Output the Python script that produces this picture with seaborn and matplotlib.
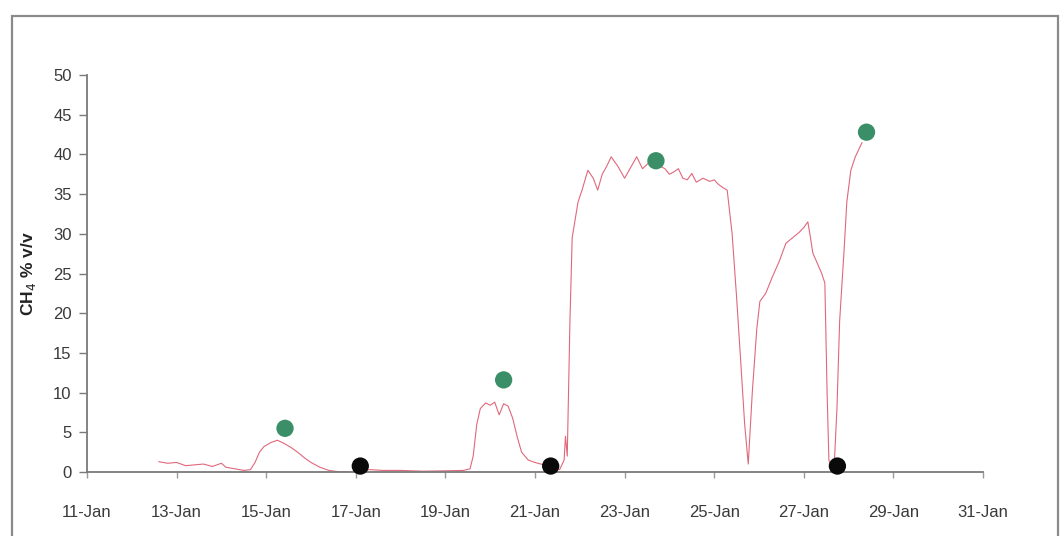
import pandas as pd
import numpy as np
import matplotlib
import matplotlib.pyplot as plt
import matplotlib.dates as mdates
from matplotlib.patches import Rectangle
import seaborn as sns

matplotlib.use('Agg')

# --- data (day of January, CH4 % v/v) ---
line_day = [12.6, 12.8, 13.0, 13.2, 13.4, 13.6, 13.8, 14.0, 14.1, 14.3, 14.5, 14.65,
            14.75, 14.85, 14.95, 15.1, 15.25, 15.4, 15.55, 15.7, 15.85, 16.0, 16.2,
            16.4, 16.6, 16.8, 17.0, 17.3, 17.6, 18.0, 18.5, 19.0, 19.4, 19.55, 19.62,
            19.7, 19.78, 19.9, 20.0, 20.1, 20.2, 20.3, 20.4, 20.5, 20.6, 20.7, 20.85,
            21.0, 21.2, 21.4, 21.55, 21.65, 21.68, 21.72, 21.78, 21.83, 21.96, 22.05,
            22.18, 22.3, 22.4, 22.5, 22.6, 22.7, 22.85, 23.0, 23.1, 23.27, 23.4, 23.55,
            23.7, 23.9, 24.0, 24.1, 24.2, 24.3, 24.4, 24.5, 24.6, 24.75, 24.9, 25.0,
            25.1, 25.2, 25.29, 25.4, 25.5, 25.58, 25.68, 25.76, 25.85, 25.95, 26.02,
            26.15, 26.3, 26.45, 26.6, 26.75, 26.9, 27.0, 27.09, 27.15, 27.2, 27.3,
            27.4, 27.47, 27.52, 27.56, 27.62, 27.68, 27.74, 27.8, 27.9, 27.96, 28.05,
            28.15, 28.3]
line_ch4 = [1.3, 1.1, 1.2, 0.8, 0.9, 1.0, 0.7, 1.1, 0.6, 0.4, 0.2, 0.3,
            1.2, 2.5, 3.2, 3.7, 4.0, 3.6, 3.1, 2.5, 1.8, 1.2, 0.6,
            0.2, 0.05, 0.0, 0.0, 0.3, 0.2, 0.2, 0.1, 0.15, 0.2, 0.4, 2.0,
            6.0, 8.0, 8.7, 8.4, 8.8, 7.2, 8.6, 8.3, 6.8, 4.5, 2.5, 1.5,
            1.2, 0.9, 0.5, 0.3, 1.5, 4.5, 2.0, 19.0, 29.5, 34.0, 35.5,
            38.0, 37.0, 35.5, 37.5, 38.5, 39.7, 38.5, 37.0, 38.0, 39.7, 38.2, 39.0,
            38.8, 38.2, 37.5, 37.8, 38.2, 37.0, 36.8, 37.6, 36.5, 37.0, 36.6, 36.8,
            36.2, 35.8, 35.5, 30.0, 22.0, 15.0, 6.0, 1.0, 10.0, 18.0, 21.5,
            22.5, 24.6, 26.5, 28.8, 29.5, 30.2, 30.8, 31.5, 29.5, 27.6, 26.3,
            25.0, 23.8, 10.0, 1.5, 0.5, 1.0, 8.0, 19.0, 28.0, 34.0, 38.0,
            39.7, 41.5]

sample_day = [15.42, 20.3, 23.7, 28.4]
sample_ch4 = [5.5, 11.6, 39.2, 42.8]

zero_day = [17.1, 21.35, 27.75]
zero_ch4 = [0.75, 0.75, 0.75]

start = pd.Timestamp('2009-01-01')


def to_dates(days):
    return start + pd.to_timedelta(np.array(days) - 1, unit='D')


sns.set_style('white')
plt.rcParams['font.family'] = ['Liberation Sans', 'DejaVu Sans']

fig = plt.figure(figsize=(10.62, 5.36), dpi=100)
ax = fig.add_axes([87 / 1062, 1 - 472 / 536, (983 - 87) / 1062, (472 - 75) / 536])

# outer chart frame
fig.patches.append(Rectangle((12 / 1062, -0.05), (1058 - 12) / 1062, 1.05 - 16 / 536,
                             transform=fig.transFigure, fill=False,
                             edgecolor='#8a8a8a', lw=1.6))

sns.lineplot(x=to_dates(line_day), y=line_ch4, ax=ax, color='#e0687c', lw=0.8)
sns.scatterplot(x=to_dates(sample_day), y=sample_ch4, ax=ax, color='#3a8f68',
                s=155, edgecolor='none', zorder=5, clip_on=False)
sns.scatterplot(x=to_dates(zero_day), y=zero_ch4, ax=ax, color='#0a0a0a',
                s=155, edgecolor='none', zorder=5, clip_on=False)

ax.set_xlim(pd.Timestamp('2009-01-11'), pd.Timestamp('2009-01-31'))
ax.set_ylim(0, 50)
ax.set_yticks(range(0, 51, 5))
ax.xaxis.set_major_locator(mdates.DayLocator(bymonthday=range(11, 32, 2)))
ax.xaxis.set_major_formatter(mdates.DateFormatter('%d-%b'))

for side in ['top', 'right']:
    ax.spines[side].set_visible(False)
for side in ['left', 'bottom']:
    ax.spines[side].set_color('#7a7a7a')
    ax.spines[side].set_linewidth(1.3)

ax.tick_params(axis='y', length=6, width=1, color='#7a7a7a', pad=5,
               labelsize=12, labelcolor='#3a3a3a', left=True)
ax.tick_params(axis='x', length=4, width=1, color='#9a9a9a', pad=20,
               labelsize=12, labelcolor='#3a3a3a', bottom=True)

ax.set_ylabel('CH$_4$ % v/v', fontsize=12.5, fontweight='bold', color='#222222')
ax.yaxis.set_label_coords(-0.055, 0.5)
ax.set_xlabel('')

fig.savefig('out.png', dpi=100)
